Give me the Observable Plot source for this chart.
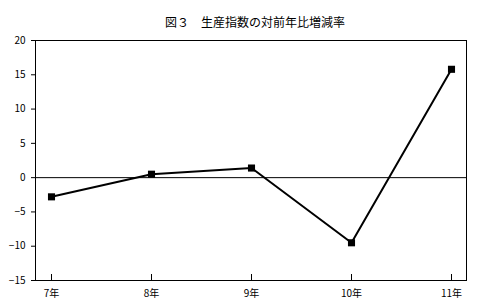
<!DOCTYPE html>
<html><head><meta charset="utf-8">
<script src="https://cdn.jsdelivr.net/npm/d3@7"></script>
<script src="https://cdn.jsdelivr.net/npm/@observablehq/plot@0.6"></script>
<style>body{margin:0;background:#fff}</style>
</head><body><div id="chart"></div>
<script>
const title = "図３　生産指数の対前年比増減率";
const years = ["7年", "8年", "9年", "10年", "11年"];
const values = [-2.8, 0.5, 1.4, -9.5, 15.8];
const yTicks = [-15, -10, -5, 0, 5, 10, 15, 20];

const data = years.map((y, i) => ({year: y, value: values[i]}));
const font = "'Noto Sans CJK JP', 'DejaVu Sans', sans-serif";

const chart = Plot.plot({
  width: 484,
  height: 307,
  marginTop: 40,
  marginBottom: 27,
  marginLeft: 35,
  marginRight: 18,
  style: {fontFamily: font, fontSize: "10px", color: "#000", background: "#fff"},
  x: {type: "point", domain: years, padding: 0.148, label: null},
  y: {domain: [-15, 20], label: null},
  marks: [
    Plot.frame({stroke: "#000"}),
    Plot.ruleY([0], {stroke: "#000", strokeWidth: 1}),
    Plot.tickX(years, {x: d => d, stroke: "#000", insetTop: 234}),
    Plot.axisX({tickSize: 0, tickPadding: 9, fontSize: 10, label: null}),
    Plot.axisY({ticks: yTicks, tickSize: 4, tickPadding: 6, fontSize: 10, label: null}),
    Plot.line(data, {x: "year", y: "value", stroke: "#000", strokeWidth: 2}),
    Plot.dot(data, {x: "year", y: "value", symbol: "square", r: 4, fill: "#000", stroke: "none"}),
    Plot.text([title], {text: d => d, frameAnchor: "top", dy: -22, dx: 4, fontSize: 12, fill: "#000"})
  ]
});
document.getElementById("chart").append(chart);
</script></body></html>
